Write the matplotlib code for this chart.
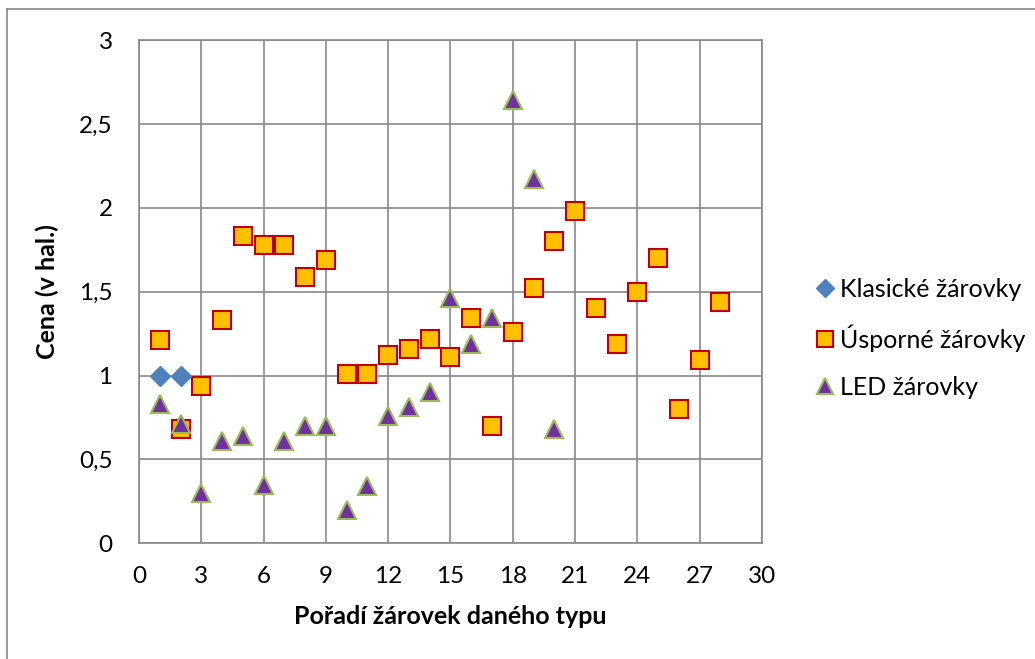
import matplotlib.pyplot as plt
from matplotlib.lines import Line2D

# data
klasicke_x = [1, 2]
klasicke_y = [1.0, 1.0]

usporne_x = list(range(1, 29))
usporne_y = [1.21, 0.68, 0.94, 1.33, 1.83, 1.78, 1.78, 1.59, 1.69, 1.01,
             1.01, 1.12, 1.16, 1.22, 1.11, 1.34, 0.70, 1.26, 1.52, 1.80,
             1.98, 1.40, 1.19, 1.50, 1.70, 0.80, 1.09, 1.44]

led_x = list(range(1, 21))
led_y = [0.83, 0.71, 0.30, 0.61, 0.64, 0.35, 0.61, 0.70, 0.70, 0.20,
         0.34, 0.76, 0.81, 0.90, 1.46, 1.19, 1.34, 2.64, 2.17, 0.68]

x_ticks = list(range(0, 31, 3))
y_ticks = [0, 0.5, 1, 1.5, 2, 2.5, 3]
y_labels = ["0", "0,5", "1", "1,5", "2", "2,5", "3"]

plt.rcParams['font.family'] = ['Lato', 'DejaVu Sans']

fig = plt.figure(figsize=(10.35, 6.59), dpi=100)
ax = fig.add_axes([0.1343, 0.1756, 0.6019, 0.7637])

grid_col = '#898989'
ax.plot(usporne_x, usporne_y, ls='none', marker='s', ms=12.5,
        mfc='#FFC000', mec='#C00000', mew=1.5, zorder=3)
ax.plot(klasicke_x, klasicke_y, ls='none', marker='D', ms=10,
        mfc='#4F81BD', mec='#4F81BD', mew=1, zorder=4)
ax.plot(led_x, led_y, ls='none', marker='^', ms=13,
        mfc='#7030A0', mec='#9BBB59', mew=1.5, zorder=5)

ax.set_xlim(0, 30)
ax.set_ylim(0, 3)
ax.set_xticks(x_ticks)
ax.set_yticks(y_ticks)
ax.set_yticklabels(y_labels)
ax.grid(True, color=grid_col, lw=1.2)
ax.set_axisbelow(True)
for s in ax.spines.values():
    s.set_color(grid_col)
    s.set_linewidth(1.2)
ax.tick_params(length=0, labelsize=17.5, pad=19)
ax.tick_params(axis='x', pad=16)

ax.set_xlabel('Pořadí žárovek daného typu', fontsize=18, fontweight='bold', labelpad=13)
ax.set_ylabel('Cena (v hal.)', fontsize=18, fontweight='bold', labelpad=14)

handles = [
    Line2D([], [], ls='none', marker='D', ms=9, mfc='#4F81BD', mec='#4F81BD'),
    Line2D([], [], ls='none', marker='s', ms=11, mfc='#FFC000', mec='#C00000', mew=1.5),
    Line2D([], [], ls='none', marker='^', ms=12, mfc='#7030A0', mec='#9BBB59', mew=1.5),
]
fig.legend(handles, ['Klasické žárovky', 'Úsporné žárovky', 'LED žárovky'],
           loc='center left', bbox_to_anchor=(0.78, 0.487), frameon=False,
           fontsize=18, handlelength=0.6, handletextpad=0.3, labelspacing=0.95,
           borderaxespad=0)

# outer chart border (left and top visible)
fig.add_artist(Line2D([0.007, 0.007], [0.0, 0.986], color=grid_col, lw=1.2))
fig.add_artist(Line2D([0.007, 1.0], [0.986, 0.986], color=grid_col, lw=1.2))

fig.savefig('out.png', dpi=100)
